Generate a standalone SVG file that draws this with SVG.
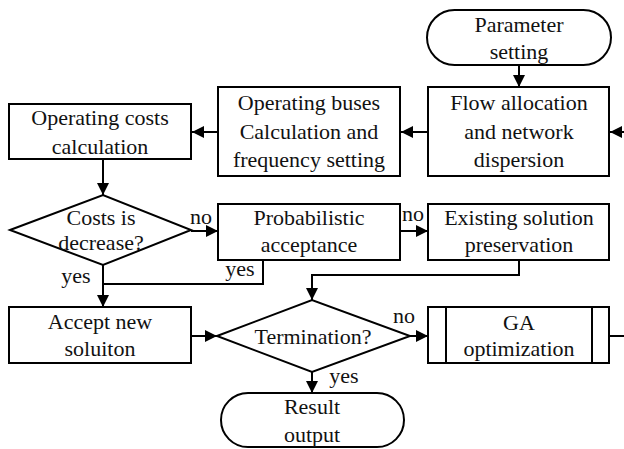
<svg xmlns="http://www.w3.org/2000/svg" width="624" height="449" viewBox="0 0 624 449">
<style>
.n{fill:#fff;stroke:#000;stroke-width:2}
text{font-family:'Liberation Serif','Tinos','Times New Roman','DejaVu Serif',serif;font-size:22px;fill:#111;text-anchor:middle}
.c path{fill:none;stroke:#000;stroke-width:2}
.a{marker-end:url(#ah)}
</style>
<defs>
<marker id="ah" markerUnits="userSpaceOnUse" markerWidth="13" markerHeight="12" refX="12" refY="6" orient="auto">
<path d="M0,0 L12,6 L0,12 z" fill="#000"/>
</marker>
</defs>
<rect width="624" height="449" fill="#fff"/>
<g class="c" id="connectors">
<path class="a" d="M519,65 V87"/>
<path class="a" d="M624,132 H610"/>
<path class="a" d="M428,132 H401"/>
<path class="a" d="M218,132 H192"/>
<path class="a" d="M103,159 V195"/>
<path class="a" d="M191,231 H218"/>
<path class="a" d="M400,231 H428"/>
<path d="M263,260 V284 H103"/>
<path class="a" d="M103,265 V307"/>
<path class="a" d="M519,260 V275 H312 V300"/>
<path class="a" d="M191,336 H217"/>
<path class="a" d="M410,336 H428"/>
<path d="M609,336 H624"/>
<path class="a" d="M312,372 V393"/>
</g>
<g font-family="Liberation Serif, serif">
<g id="param">
<rect class="n" x="427" y="10" width="184" height="55" rx="27.5"/>
<text x="519" y="32">Parameter</text>
<text x="519" y="59">setting</text>
</g>
<g id="flow">
<rect class="n" x="428" y="87" width="181" height="89"/>
<text x="519" y="110">Flow allocation</text>
<text x="519" y="139">and network</text>
<text x="519" y="167">dispersion</text>
</g>
<g id="buses">
<rect class="n" x="218" y="87" width="182" height="89"/>
<text x="309" y="110">Operating buses</text>
<text x="309" y="139">Calculation and</text>
<text x="309" y="167">frequency setting</text>
</g>
<g id="costs">
<rect class="n" x="9" y="104" width="182" height="55"/>
<text x="100" y="125">Operating costs</text>
<text x="100" y="154">calculation</text>
</g>
<g id="decrease">
<polygon class="n" points="10,230 103,195 191,230 103,265"/>
<text x="101" y="225">Costs is</text>
<text x="101" y="250">decrease?</text>
</g>
<g id="prob">
<rect class="n" x="218" y="204" width="182" height="56"/>
<text x="309" y="225">Probabilistic</text>
<text x="309" y="252">acceptance</text>
</g>
<g id="existing">
<rect class="n" x="428" y="204" width="181" height="56"/>
<text x="519" y="225">Existing solution</text>
<text x="519" y="252">preservation</text>
</g>
<g id="accept">
<rect class="n" x="9" y="307" width="182" height="56"/>
<text x="100" y="329">Accept new</text>
<text x="100" y="356">soluiton</text>
</g>
<g id="termination">
<polygon class="n" points="217,336 312,300 410,336 312,372"/>
<text x="313" y="344">Termination?</text>
</g>
<g id="ga">
<rect class="n" x="428" y="307" width="181" height="56"/>
<path d="M446,307 V363 M592,307 V363" stroke="#000" stroke-width="2"/>
<text x="519" y="330">GA</text>
<text x="519" y="356">optimization</text>
</g>
<g id="result">
<rect class="n" x="221" y="393" width="183" height="54" rx="27"/>
<text x="312" y="414">Result</text>
<text x="312" y="442">output</text>
</g>
<g id="labels">
<text x="201" y="224">no</text>
<text x="413" y="221">no</text>
<text x="240" y="276">yes</text>
<text x="76" y="283">yes</text>
<text x="404" y="323">no</text>
<text x="344" y="383">yes</text>
</g>
</g>
</svg>
